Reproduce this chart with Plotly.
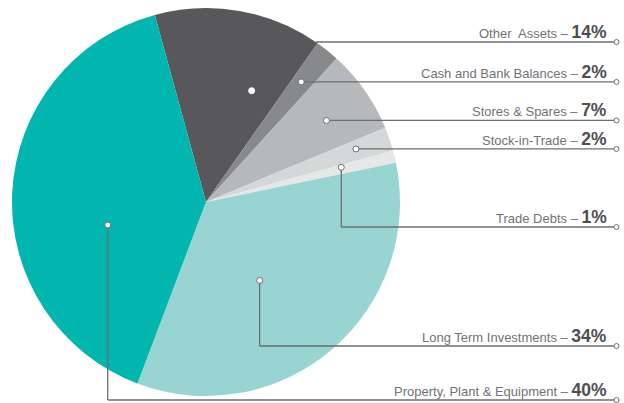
import math
import plotly.graph_objects as go

# ---- data ----
labels = ["Other\u00a0 Assets", "Cash and Bank Balances", "Stores & Spares",
          "Stock-in-Trade", "Trade Debts", "Long Term Investments",
          "Property, Plant & Equipment"]
values = [14, 2, 7, 2, 1, 34, 40]
colors = ["#58585a", "#88898b", "#b7b8ba", "#d6d7d8", "#e6e7e7", "#98d5d2", "#00b6ae"]

# ---- layout constants (pixels) ----
W, H = 624, 403
CX, CY, R = 206, 202, 194
ROT = -15.3
# position of the callout dot inside each slice: fraction of slice angle, fraction of radius
anchor_frac = [0.746, 0.46, 0.54, 0.42, 0.25, 0.55, 0.39]
anchor_r = [0.62, 0.79, 0.75, 0.82, 0.72, 0.49, 0.52]
line_y = [42, 82, 121, 149, 227, 346, 400]
LINE_END_X = 617
TEXT_RIGHT_X = 608
LINE_COL = "#6d6e70"


def px(x):
    return x / W


def py(y):
    return 1 - y / H


fig = go.Figure(go.Pie(
    labels=labels, values=values, sort=False, direction="clockwise",
    rotation=ROT, marker=dict(colors=colors, line=dict(width=0)),
    textinfo="none", hoverinfo="label+percent", showlegend=False,
    domain=dict(x=[px(CX - R), px(CX + R)], y=[py(CY + R), py(CY - R)]),
))

shapes = []
annotations = []
total = sum(values)
start = ROT
for i, (lab, v) in enumerate(zip(labels, values)):
    span = 360 * v / total
    ang = math.radians(start + anchor_frac[i] * span)
    start += span
    dx = CX + anchor_r[i] * R * math.sin(ang)
    dy = CY - anchor_r[i] * R * math.cos(ang)
    ly = line_y[i]
    lw = dict(color=LINE_COL, width=1.3)
    if i == 0:
        sx = CX + math.sqrt(R * R - (CY - ly) ** 2)
        shapes.append(dict(type="line", x0=px(sx), x1=px(LINE_END_X - 3), y0=py(ly), y1=py(ly),
                           xref="paper", yref="paper", line=lw))
    else:
        if abs(dy - ly) > 2:
            shapes.append(dict(type="line", x0=px(dx), x1=px(dx), y0=py(dy), y1=py(ly),
                               xref="paper", yref="paper", line=lw))
        else:
            ly = dy
        shapes.append(dict(type="line", x0=px(dx), x1=px(LINE_END_X - 3), y0=py(ly), y1=py(ly),
                           xref="paper", yref="paper", line=lw))
    # dot in slice
    shapes.append(dict(type="circle", xref="paper", yref="paper",
                       x0=px(dx - 3), x1=px(dx + 3), y0=py(dy + 3), y1=py(dy - 3),
                       fillcolor="white", line=dict(color=LINE_COL if i else "white", width=1)))
    # end circle
    shapes.append(dict(type="circle", xref="paper", yref="paper",
                       x0=px(LINE_END_X - 3), x1=px(LINE_END_X + 2), y0=py(ly + 2.5), y1=py(ly - 2.5),
                       fillcolor="white", line=dict(color=LINE_COL, width=1)))
    annotations.append(dict(
        xref="paper", yref="paper", x=px(TEXT_RIGHT_X), y=py(ly + 1),
        xanchor="right", yanchor="bottom", showarrow=False,
        text=f"{lab} – <b><span style='font-size:17.5px;color:#4f4f51'>{v}%</span></b>",
        font=dict(family="Liberation Sans, Arial", size=13, color="#717274"),
        borderpad=0,
    ))

fig.update_layout(
    width=W, height=H, margin=dict(l=0, r=0, t=0, b=0),
    paper_bgcolor="white", plot_bgcolor="white",
    shapes=shapes, annotations=annotations,
)
fig.write_html("out.html", config={"displayModeBar": False},
               post_script="document.body.style.margin='0';document.body.style.padding='0';")
